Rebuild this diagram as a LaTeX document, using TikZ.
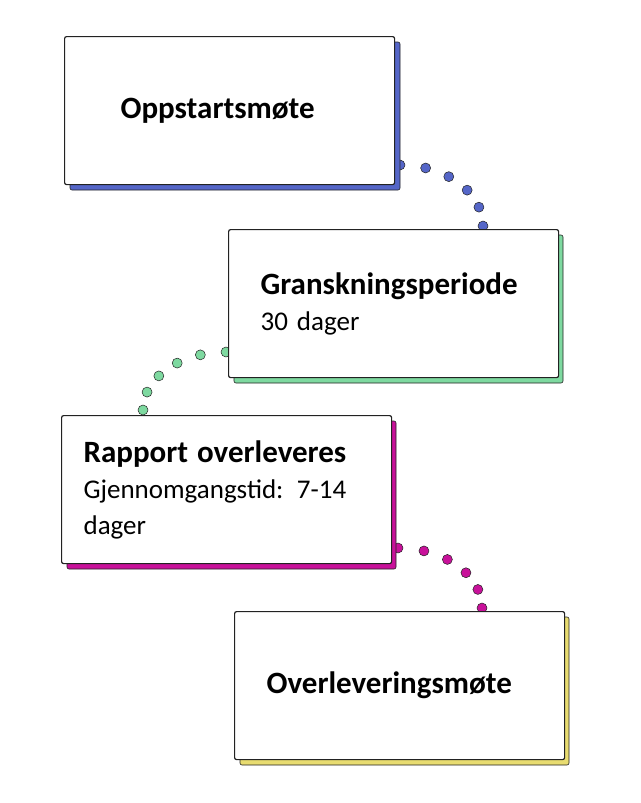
\documentclass[tikz,border=0pt]{standalone}
\usepackage{fontspec}
\setmainfont{Carlito}
\definecolor{stepblue}{HTML}{5566C8}
\definecolor{stepgreen}{HTML}{7ED9A0}
\definecolor{stepmagenta}{HTML}{C8119A}
\definecolor{stepyellow}{HTML}{E8DC70}
\definecolor{edge}{HTML}{222222}
\tikzset{
  stepbox/.style={draw=edge, line width=1.2pt, fill=white, rounded corners=2pt,
    minimum width=330pt, minimum height=148pt, anchor=north west,
    text width=266pt, align=left, font=\fontsize{27}{36}\selectfont},
  shadowbox/.style={fill=#1, draw=edge, line width=0.6pt, rounded corners=2pt},
  dot/.style={fill=#1, draw=edge, line width=0.5pt}
}
\newcommand{\steptitle}[1]{\textbf{\fontsize{31}{36}\selectfont #1}}
\begin{document}
\begin{tikzpicture}[x=1pt,y=-1pt]
  \useasboundingbox (0,0) rectangle (640,803);
  % Dots between steps
  \foreach \t in {0,18,...,90}
    \draw[dot=stepblue] ({400+83*sin(\t)},{226-61*cos(\t)}) circle (5);
  \foreach \t in {0,18,...,90}
    \draw[dot=stepgreen] ({226-83*sin(\t)},{410-58*cos(\t)}) circle (5);
  \foreach \t in {0,18,...,90}
    \draw[dot=stepmagenta] ({398+84*sin(\t)},{608-60*cos(\t)}) circle (5);
  % Shadows
  \draw[shadowbox=stepblue] (70,42) rectangle (400,190);
  \draw[shadowbox=stepgreen] (234,235) rectangle (563,383);
  \draw[shadowbox=stepmagenta] (67,421) rectangle (396,569);
  \draw[shadowbox=stepyellow] (240,617) rectangle (569,765);
  % Steps
  \node[stepbox] (start) at (64,36) {\hspace*{24pt}\steptitle{Oppstartsmøte}};
  \node[stepbox] (review) at (228,229) {\steptitle{Granskningsperiode}\\30 dager};
  \node[stepbox, text width=286pt] (report) at (61,415) {\steptitle{Rapport overleveres}\\Gjennomgangstid: 7-14\\dager};
  \node[stepbox] (handover) at (234,611) {\steptitle{Overleveringsmøte}};
\end{tikzpicture}
\end{document}
